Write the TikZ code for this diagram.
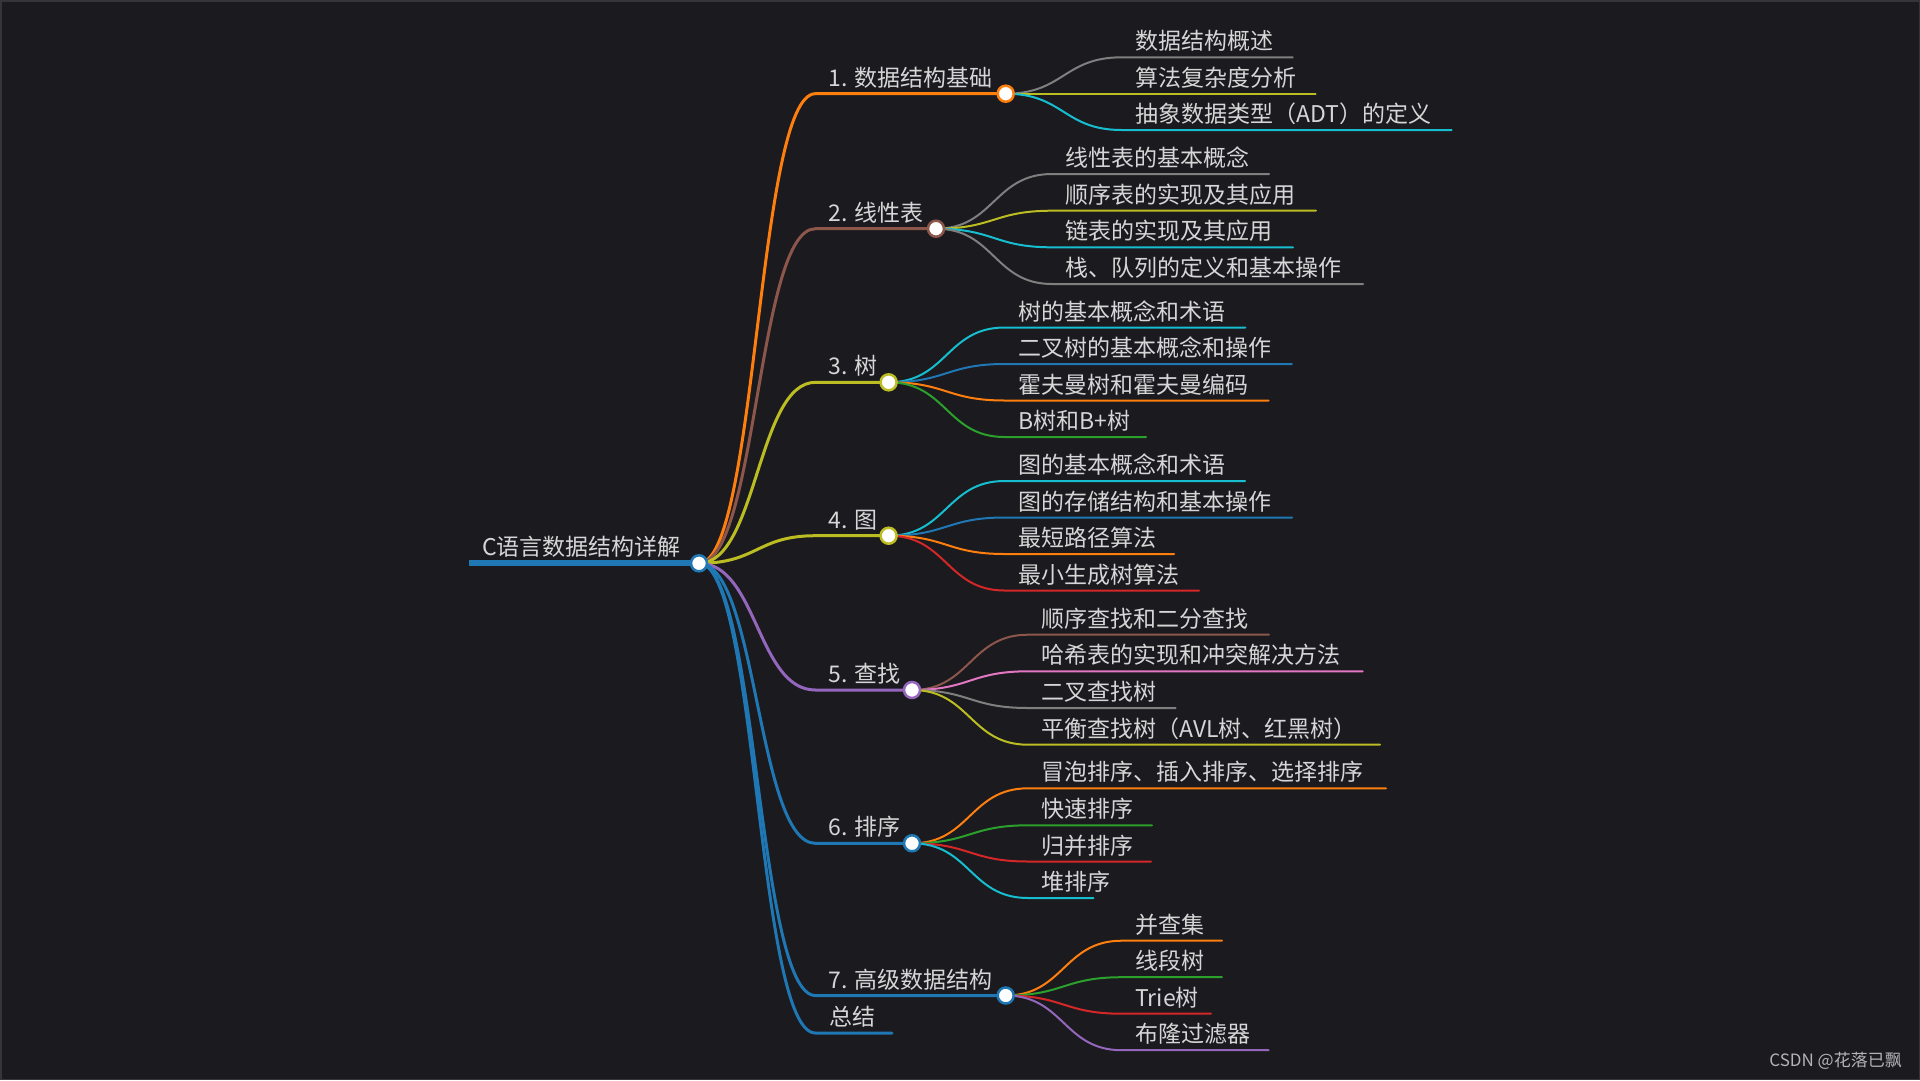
\documentclass[tikz,border=0pt]{standalone}
\usepackage{fontspec}
\setmainfont{Noto Sans CJK SC}
\usetikzlibrary{calc}
\pgfdeclarelayer{bg}
\pgfsetlayers{bg,main}
\definecolor{mmbg}{HTML}{1A1A1F}
\definecolor{mmframe}{HTML}{34343A}
\definecolor{mmtxt}{HTML}{D6D6D6}
\definecolor{mmmark}{HTML}{B4B4B4}
\definecolor{mmblue}{HTML}{1F77B4}
\definecolor{mmorange}{HTML}{FF7F0E}
\definecolor{mmgreen}{HTML}{2CA02C}
\definecolor{mmred}{HTML}{D62728}
\definecolor{mmpurple}{HTML}{9467BD}
\definecolor{mmbrown}{HTML}{8C564B}
\definecolor{mmpink}{HTML}{E377C2}
\definecolor{mmgray}{HTML}{7F7F7F}
\definecolor{mmolive}{HTML}{BCBD22}
\definecolor{mmcyan}{HTML}{17BECF}
\tikzset{
  link/.style={to path={let \p1=(\tikztostart), \p2=(\tikztotarget) in
     .. controls ({0.5*\x1+0.5*\x2},\y1) and ({0.5*\x1+0.5*\x2},\y2) .. (\tikztotarget)}},
  mmtext/.style={anchor=base west, inner sep=0pt, text=mmtxt, font=\fontsize{23}{27}\selectfont},
  mmdot/.style={circle, draw=#1, fill=white, line width=2.5pt, minimum size=16pt, inner sep=0pt},
  rootline/.style={line width=6pt, mmblue},
  lvoneline/.style={line width=3pt, line cap=round},
  kidline/.style={line width=2pt, line cap=round},
}
% #1 name, #2 color, #3 y, #4 circle x, #5 text
\newcommand\mmbranch[5]{%
  \coordinate (#1s) at (815.4,#3);
  \node[mmdot=#2] (#1) at (#4,#3) {};
  \node[mmtext] (#1t) at (828.6,#3-7.5) {#5};
  \begin{pgfonlayer}{bg}
    \draw[lvoneline,#2] (root.center) to[link] (#1s) -- (#1.center);
  \end{pgfonlayer}}
% #1 name, #2 parent, #3 color, #4 y, #5 start x, #6 end x, #7 text
\newcommand\mmkid[7]{%
  \coordinate (#1s) at (#5,#4);
  \coordinate (#1e) at (#6,#4);
  \node[mmtext] (#1) at (#5+13.4,#4-7.5) {#7};
  \begin{pgfonlayer}{bg}
    \draw[kidline,#3] (#2.center) to[link] (#1s) -- (#1e);
  \end{pgfonlayer}}
\begin{document}
\begin{tikzpicture}[x=1pt,y=-1pt]
\useasboundingbox (0,0) rectangle (1920,1080);
\begin{pgfonlayer}{bg}
  \fill[mmbg] (0,0) rectangle (1920,1080);
  \draw[mmframe, line width=1.5pt] (0.75,0.75) rectangle (1919.25,1079.25);
\end{pgfonlayer}

% root
\coordinate (rootL) at (469,563.3);
\node[mmdot=mmblue] (root) at (699,563.3) {};
\node[mmtext] (roott) at (482,563.3-7.5) {C语言数据结构详解};
\begin{pgfonlayer}{bg}
  \draw[rootline] (rootL) -- (root.center);
\end{pgfonlayer}

% level 1
\mmbranch{na}{mmorange}{93.7}{1005.7}{1. 数据结构基础}
\mmbranch{nb}{mmbrown}{228.7}{936}{2. 线性表}
\mmbranch{nc}{mmolive}{382.3}{888.6}{3. 树}
\mmbranch{nd}{mmolive}{535.7}{888.6}{4. 图}
\mmbranch{ne}{mmpurple}{690}{912}{5. 查找}
\mmbranch{nf}{mmblue}{843.3}{912}{6. 排序}
\mmbranch{ng}{mmblue}{995.5}{1005.7}{7. 高级数据结构}

% summary
\coordinate (zjs) at (815.4,1033);
\coordinate (zje) at (892,1033);
\node[mmtext] (zj) at (829.5,1033-7.5) {总结};
\begin{pgfonlayer}{bg}
  \draw[lvoneline,mmblue] (root.center) to[link] (zjs) -- (zje);
\end{pgfonlayer}

% children of 1
\mmkid{a1}{na}{mmgray}{57.3}{1121.7}{1292.7}{数据结构概述}
\mmkid{a2}{na}{mmolive}{93.7}{1121.7}{1315.7}{算法复杂度分析}
\mmkid{a3}{na}{mmcyan}{130}{1121.7}{1451.7}{抽象数据类型（ADT）的定义}

% children of 2
\mmkid{b1}{nb}{mmgray}{174}{1052}{1269}{线性表的基本概念}
\mmkid{b2}{nb}{mmolive}{210.7}{1052}{1316}{顺序表的实现及其应用}
\mmkid{b3}{nb}{mmcyan}{247.3}{1052}{1293}{链表的实现及其应用}
\mmkid{b4}{nb}{mmgray}{284}{1052}{1363}{栈、队列的定义和基本操作}

% children of 3
\mmkid{c1}{nc}{mmcyan}{327.5}{1004.6}{1245.4}{树的基本概念和术语}
\mmkid{c2}{nc}{mmblue}{364}{1004.6}{1291.8}{二叉树的基本概念和操作}
\mmkid{c3}{nc}{mmorange}{400.5}{1004.6}{1268.6}{霍夫曼树和霍夫曼编码}
\mmkid{c4}{nc}{mmgreen}{437}{1004.6}{1146}{B树和B+树}

% children of 4
\mmkid{d1}{nd}{mmcyan}{481}{1004.6}{1245}{图的基本概念和术语}
\mmkid{d2}{nd}{mmblue}{517.5}{1004.6}{1292}{图的存储结构和基本操作}
\mmkid{d3}{nd}{mmorange}{554}{1004.6}{1174}{最短路径算法}
\mmkid{d4}{nd}{mmred}{590.5}{1004.6}{1199}{最小生成树算法}

% children of 5
\mmkid{e1}{ne}{mmbrown}{634.7}{1028}{1269}{顺序查找和二分查找}
\mmkid{e2}{ne}{mmpink}{671.3}{1028}{1362.7}{哈希表的实现和冲突解决方法}
\mmkid{e3}{ne}{mmgray}{708}{1028}{1175.7}{二叉查找树}
\mmkid{e4}{ne}{mmolive}{744.7}{1028}{1380}{平衡查找树（AVL树、红黑树）}

% children of 6
\mmkid{f1}{nf}{mmorange}{788.3}{1028}{1386}{冒泡排序、插入排序、选择排序}
\mmkid{f2}{nf}{mmgreen}{825.3}{1028}{1152}{快速排序}
\mmkid{f3}{nf}{mmred}{861.5}{1028}{1151}{归并排序}
\mmkid{f4}{nf}{mmcyan}{898}{1028}{1093.5}{堆排序}

% children of 7
\mmkid{g1}{ng}{mmorange}{940.7}{1121.7}{1222}{并查集}
\mmkid{g2}{ng}{mmgreen}{977.2}{1121.7}{1222}{线段树}
\mmkid{g3}{ng}{mmred}{1013.7}{1121.7}{1211}{Trie树}
\mmkid{g4}{ng}{mmpurple}{1050.2}{1121.7}{1268.6}{布隆过滤器}

% watermark
\node[anchor=base east, inner sep=0pt, text=mmmark, font=\fontsize{17}{20}\selectfont] (mark) at (1902,1066) {CSDN @花落已飘};
\end{tikzpicture}
\end{document}
